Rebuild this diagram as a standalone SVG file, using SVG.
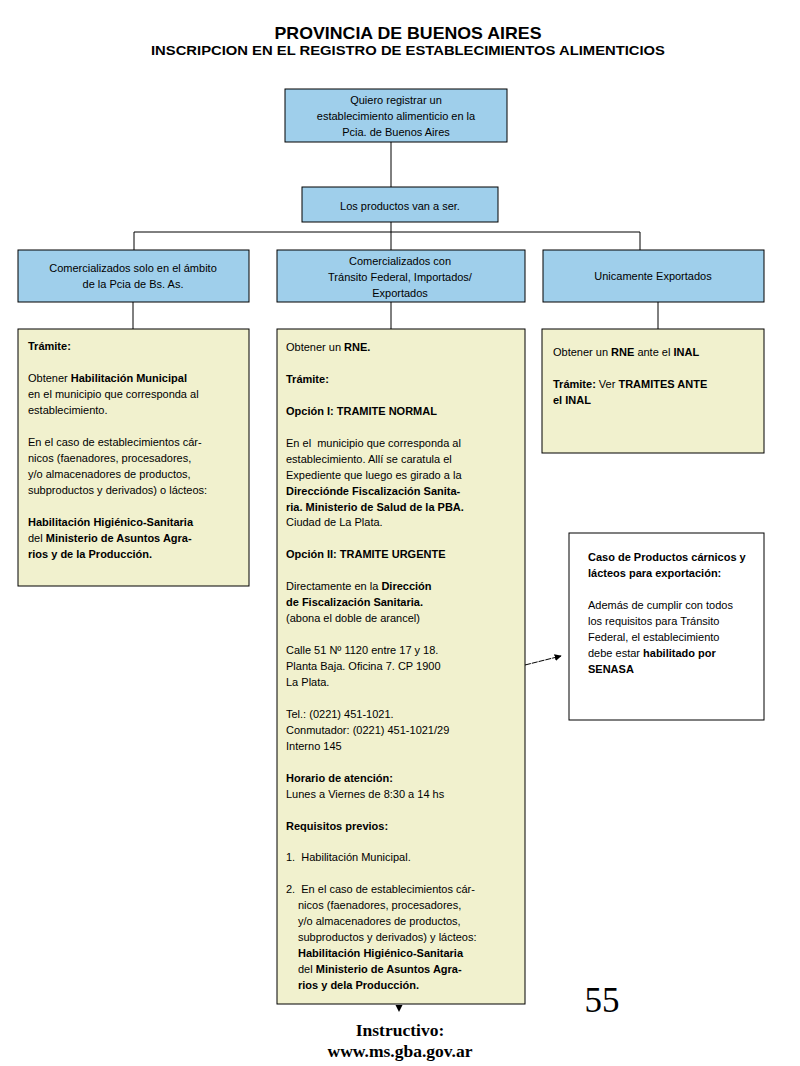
<svg xmlns="http://www.w3.org/2000/svg" width="800" height="1066" viewBox="0 0 800 1066">
<style>
text{font-family:"Liberation Sans",Arial,sans-serif;font-size:11px;fill:#000}
.c{text-anchor:middle}
.b{font-weight:bold}
.title{font-weight:bold;text-anchor:middle}
.t1{font-size:17px}
.t2{font-size:13.5px}
.serif{font-family:"Liberation Serif","Times New Roman",serif;font-size:17.5px}
.num{font-family:"Liberation Serif","Times New Roman",serif;font-size:35px}
.blue{fill:#9FCFEB;stroke:#000;stroke-width:1}
.yel{fill:#F1F1CE;stroke:#000;stroke-width:1}
.wht{fill:#fff;stroke:#000;stroke-width:1}
.ln{stroke:#000;stroke-width:1;fill:none}
</style>
<defs>
<marker id="ah" viewBox="0 0 10 10" refX="9" refY="5" markerWidth="7" markerHeight="7" orient="auto" markerUnits="userSpaceOnUse">
<path d="M0,0 L10,5 L0,10 z" fill="#000"/>
</marker>
</defs>
<rect width="800" height="1066" fill="#fff"/>
<text class="title t1" x="408" y="39" textLength="267" lengthAdjust="spacingAndGlyphs">PROVINCIA DE BUENOS AIRES</text>
<text class="title t2" x="408" y="55" textLength="514" lengthAdjust="spacingAndGlyphs">INSCRIPCION EN EL REGISTRO DE ESTABLECIMIENTOS ALIMENTICIOS</text>

<g id="connectors">
<line class="ln" x1="391" y1="142" x2="391" y2="187"/>
<line class="ln" x1="391" y1="222" x2="391" y2="232"/>
<line class="ln" x1="134" y1="232" x2="640" y2="232"/>
<line class="ln" x1="134" y1="232" x2="134" y2="250"/>
<line class="ln" x1="391" y1="232" x2="391" y2="250"/>
<line class="ln" x1="640" y1="232" x2="640" y2="250"/>
<line class="ln" x1="133" y1="302" x2="133" y2="329"/>
<line class="ln" x1="391" y1="302" x2="391" y2="329"/>
<line class="ln" x1="658" y1="302" x2="658" y2="329"/>
<line class="ln" x1="525" y1="665" x2="561" y2="656" stroke-dasharray="6,1" marker-end="url(#ah)"/>
<path d="M395.5,1005 L402.5,1005 L399,1012 z" fill="#000"/>
</g>

<g id="n-start">
<rect class="blue" x="285" y="89" width="222" height="53"/>
<text class="c" x="396" y="104">Quiero registrar un</text>
<text class="c" x="396" y="120">establecimiento alimenticio en la</text>
<text class="c" x="396" y="136">Pcia. de Buenos Aires</text>
</g>

<g id="n-productos">
<rect class="blue" x="302" y="187" width="196" height="35"/>
<text class="c" x="400" y="210">Los productos van a ser.</text>
</g>

<g id="n-pcia">
<rect class="blue" x="18" y="250" width="231" height="52"/>
<text class="c" x="133" y="272">Comercializados solo en el ámbito</text>
<text class="c" x="133" y="288">de la Pcia de Bs. As.</text>
</g>

<g id="n-federal">
<rect class="blue" x="277" y="250" width="248" height="52"/>
<text class="c" x="400" y="265">Comercializados con</text>
<text class="c" x="400" y="281">Tránsito Federal, Importados/</text>
<text class="c" x="400" y="297">Exportados</text>
</g>

<g id="n-export">
<rect class="blue" x="543" y="250" width="221" height="52"/>
<text class="c" x="653" y="280">Unicamente Exportados</text>
</g>

<g id="n-tramite-pcia">
<rect class="yel" x="18" y="329" width="231" height="257"/>
<text x="28" y="350" class="b">Trámite:</text>
<text x="28" y="382">Obtener <tspan class="b">Habilitación Municipal</tspan></text>
<text x="28" y="398">en el municipio que corresponda al</text>
<text x="28" y="414">establecimiento.</text>
<text x="28" y="446">En el caso de establecimientos cár-</text>
<text x="28" y="462">nicos (faenadores, procesadores,</text>
<text x="28" y="478">y/o almacenadores de productos,</text>
<text x="28" y="494">subproductos y derivados) o lácteos:</text>
<text x="28" y="525.5" class="b">Habilitación Higiénico-Sanitaria</text>
<text x="28" y="541.5">del <tspan class="b">Ministerio de Asuntos Agra-</tspan></text>
<text x="28" y="557.5" class="b">rios y de la Producción.</text>
</g>

<g id="n-tramite-federal">
<rect class="yel" x="277" y="329" width="248" height="675"/>
<text x="286" y="351">Obtener un <tspan class="b">RNE.</tspan></text>
<text x="286" y="383" class="b">Trámite:</text>
<text x="286" y="415" class="b">Opción I: TRAMITE NORMAL</text>
<text x="286" y="446.7" xml:space="preserve">En el  municipio que corresponda al</text>
<text x="286" y="462.6">establecimiento. Allí se caratula el</text>
<text x="286" y="478.6">Expediente que luego es girado a la</text>
<text x="286" y="494.5" class="b">Direcciónde Fiscalización Sanita-</text>
<text x="286" y="510.5" class="b">ria. Ministerio de Salud de la PBA.</text>
<text x="286" y="526.4">Ciudad de La Plata.</text>
<text x="286" y="558.3" class="b">Opción II: TRAMITE URGENTE</text>
<text x="286" y="590.2">Directamente en la <tspan class="b">Dirección</tspan></text>
<text x="286" y="606.2" class="b">de Fiscalización Sanitaria.</text>
<text x="286" y="622.1">(abona el doble de arancel)</text>
<text x="286" y="654">Calle 51 Nº 1120 entre 17 y 18.</text>
<text x="286" y="670">Planta Baja. Oficina 7. CP 1900</text>
<text x="286" y="686">La Plata.</text>
<text x="286" y="717.8">Tel.: (0221) 451-1021.</text>
<text x="286" y="733.8">Conmutador: (0221) 451-1021/29</text>
<text x="286" y="749.7">Interno 145</text>
<text x="286" y="781.6" class="b">Horario de atención:</text>
<text x="286" y="797.6">Lunes a Viernes de 8:30 a 14 hs</text>
<text x="286" y="829.5" class="b">Requisitos previos:</text>
<text x="286" y="861.4" xml:space="preserve">1.  Habilitación Municipal.</text>
<text x="286" y="893.3" xml:space="preserve">2.  En el caso de establecimientos cár-</text>
<text x="298" y="909.2">nicos (faenadores, procesadores,</text>
<text x="298" y="925.2">y/o almacenadores de productos,</text>
<text x="298" y="941.1">subproductos y derivados) y lácteos:</text>
<text x="298" y="957.1" class="b">Habilitación Higiénico-Sanitaria</text>
<text x="298" y="973">del <tspan class="b">Ministerio de Asuntos Agra-</tspan></text>
<text x="298" y="989" class="b">rios y dela Producción.</text>
</g>

<g id="n-inal">
<rect class="yel" x="542" y="329" width="222" height="124"/>
<text x="553" y="356">Obtener un <tspan class="b">RNE</tspan> ante el <tspan class="b">INAL</tspan></text>
<text x="553" y="388"><tspan class="b">Trámite:</tspan> Ver <tspan class="b">TRAMITES ANTE</tspan></text>
<text x="553" y="404" class="b">el INAL</text>
</g>

<g id="n-senasa">
<rect class="wht" x="569" y="533" width="195" height="187"/>
<text x="588" y="561" class="b">Caso de Productos cárnicos y</text>
<text x="588" y="577" class="b">lácteos para exportación:</text>
<text x="588" y="609">Además de cumplir con todos</text>
<text x="588" y="625">los requisitos para Tránsito</text>
<text x="588" y="641">Federal, el establecimiento</text>
<text x="588" y="657">debe estar <tspan class="b">habilitado por</tspan></text>
<text x="588" y="673" class="b">SENASA</text>
</g>

<g id="footer">
<text class="serif c b" x="400" y="1036">Instructivo:</text>
<text class="serif c b" x="400" y="1057">www.ms.gba.gov.ar</text>
<text class="num c" x="602" y="1012">55</text>
</g>
</svg>
